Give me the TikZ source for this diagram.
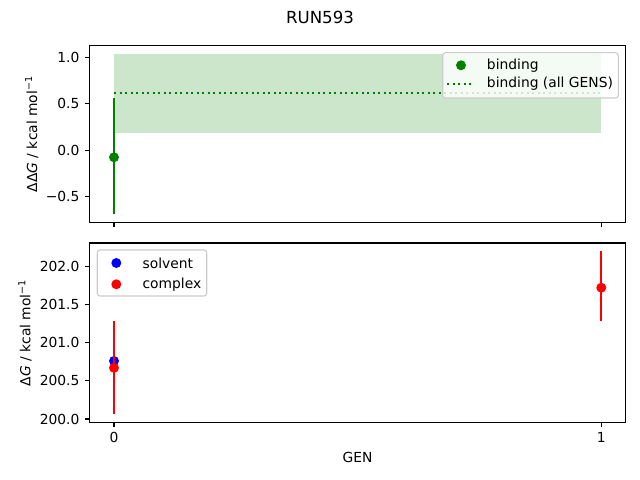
\documentclass[tikz,border=0pt]{standalone}
\usepackage{fontspec}
\setmainfont{DejaVu Sans}
\definecolor{mplgreen}{HTML}{008000}
\definecolor{mplblue}{HTML}{0000FF}
\definecolor{mplred}{HTML}{FF0000}
\definecolor{mplshade}{HTML}{CCE6CC}
\definecolor{legendedge}{HTML}{CCCCCC}
\tikzset{
  dot/.style={circle,fill=#1,inner sep=0pt,minimum size=7.2pt},
  errbar/.style={line width=1.5pt,draw=#1},
  dotline/.style={line width=1.5pt,dash pattern=on 1.5pt off 2.475pt},
  axisframe/.style={line width=0.8pt,black},
  ticklabel/.style={inner sep=0pt,font=\fontsize{10}{12}\selectfont},
  legendbox/.style={draw=legendedge,fill=white,fill opacity=0.8,rounded corners=2pt,line width=0.8pt}
}
\begin{document}
\begin{tikzpicture}[x=0.01in,y=0.01in]
\useasboundingbox (0,0) rectangle (640,480);
\node[font=\fontsize{12}{14}\selectfont] (title) at (320,463) {RUN593};
% upper panel: binding free energy
\begin{scope}[shift={(114,329.7)},x=4.87in,y=0.93in]
  \fill[mplshade] (0,0.19) rectangle (1,1.04);
  \draw[mplgreen,dotline] (0,0.62) coordinate (allA) -- (1,0.62) coordinate (allB);
  \draw[errbar=mplgreen] (0,-0.69) -- (0,0.56);
  \node[dot=mplgreen] (bind0) at (0,-0.075) {};
  \draw[axisframe] (-0.05,-0.777) rectangle (1.05,1.127);
  \foreach \v/\t in {-0.5/−0.5,0.0/0.0,0.5/0.5,1.0/1.0}
    \draw[axisframe] (-0.05,\v) -- ++(-3.5pt,0) node[ticklabel,left=3.5pt] {\t};
  \foreach \g in {0,1}
    \draw[axisframe] (\g,-0.777) -- ++(0,-3.5pt);
\end{scope}
\node[rotate=90] (ylabA) at (31.7,346) {ΔΔ\textit{G} / kcal mol\textsuperscript{−1}};
% legend of the upper panel
\draw[legendbox] (442.7,382) rectangle (618.3,427.3);
\node[dot=mplgreen] (legbind) at (461,414.7) {};
\node[anchor=west,inner sep=0pt] (legbindtxt) at (486.7,414.7) {binding};
\draw[mplgreen,dotline] (447,396) -- (472,396);
\node[anchor=west,inner sep=0pt] (legalltxt) at (486.7,396) {binding (all GENS)};
% lower panel: solvent and complex
\begin{scope}[shift={(114,61)},x=4.87in,y=0.763in]
  \node[dot=mplblue] (solv0) at (0,0.76) {};
  \draw[errbar=mplred] (0,0.07) -- (0,1.28);
  \node[dot=mplred] (cplx0) at (0,0.67) {};
  \draw[errbar=mplred] (1,1.28) -- (1,2.2);
  \node[dot=mplred] (cplx1) at (1,1.72) {};
  \draw[axisframe] (-0.05,-0.045) rectangle (1.05,2.305);
  \foreach \v/\t in {0/200.0,0.5/200.5,1/201.0,1.5/201.5,2/202.0}
    \draw[axisframe] (-0.05,\v) -- ++(-3.5pt,0) node[ticklabel,left=3.5pt] {\t};
  \foreach \g in {0,1}
    \draw[axisframe] (\g,-0.045) -- ++(0,-3.5pt) node[ticklabel,below=3.5pt] {\g};
\end{scope}
\node[rotate=90] (ylabB) at (25,147.3) {Δ\textit{G} / kcal mol\textsuperscript{−1}};
\node (xlab) at (357.5,23) {GEN};
% legend of the lower panel
\draw[legendbox] (97.3,184) rectangle (206.7,230);
\node[dot=mplblue] (legsolv) at (116.3,217) {};
\node[anchor=west,inner sep=0pt] (legsolvtxt) at (142.3,217) {solvent};
\node[dot=mplred] (legcplx) at (116.3,195.7) {};
\node[anchor=west,inner sep=0pt] (legcplxtxt) at (142.3,195.7) {complex};
\end{tikzpicture}
\end{document}
